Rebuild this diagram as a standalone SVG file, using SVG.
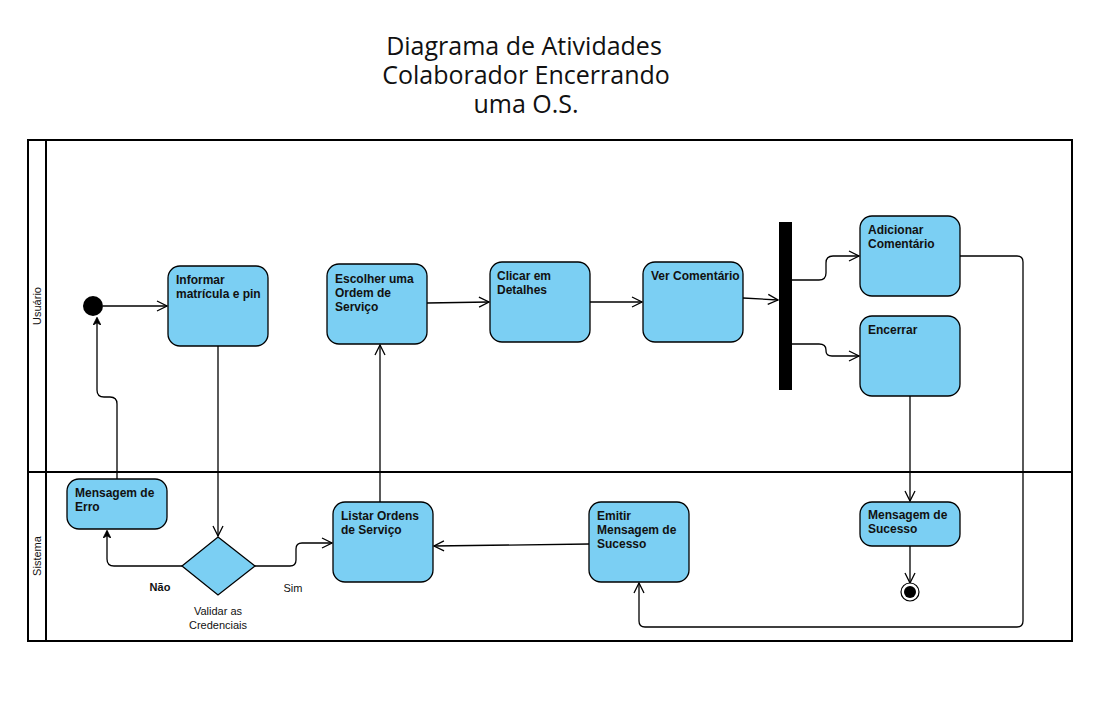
<svg xmlns="http://www.w3.org/2000/svg" width="1100" height="708" viewBox="0 0 1100 708">
<style>
.node{fill:#7BCFF3;stroke:#000;stroke-width:1.3}
.lbl{font-family:"Liberation Sans",Arial,sans-serif;font-size:12px;fill:#111}
.b{font-weight:bold}
.edge{fill:none;stroke:#000;stroke-width:1.3}
.lane{fill:none;stroke:#000;stroke-width:2}
.title{font-family:"Open Sans","Liberation Sans",sans-serif;font-size:25px;fill:#111;text-anchor:middle}
.small{font-family:"Liberation Sans",Arial,sans-serif;font-size:11px;fill:#111}
</style>
<defs>
<marker id="open" viewBox="0 0 12 12" refX="11" refY="6" markerWidth="12" markerHeight="12" markerUnits="userSpaceOnUse" orient="auto">
<path d="M1,1 L11,6 L1,11" fill="none" stroke="#000" stroke-width="1.3"/>
</marker>
<marker id="filled" viewBox="0 0 10 10" refX="9" refY="5" markerWidth="8" markerHeight="8" markerUnits="userSpaceOnUse" orient="auto">
<path d="M0,0 L10,5 L0,10 L3,5 Z" fill="#000" stroke="#000" stroke-width="1"/>
</marker>
</defs>
<rect width="1100" height="708" fill="#fff"/>
<g id="title">
<text class="title"><tspan x="524" y="55">Diagrama de Atividades</tspan><tspan x="526" y="84">Colaborador Encerrando</tspan><tspan x="526" y="113">uma O.S.</tspan></text>
</g>
<g id="pool">
<rect class="lane" x="28" y="140" width="1044" height="501"/>
<line class="lane" x1="46" y1="140" x2="46" y2="641"/>
<line class="lane" x1="28" y1="472" x2="1072" y2="472"/>
<text class="small" transform="translate(41,306) rotate(-90)" text-anchor="middle">Usuário</text>
<text class="small" transform="translate(41,556) rotate(-90)" text-anchor="middle">Sistema</text>
</g>
<g id="connectors">
<path class="edge" d="M103,306 L167,306" marker-end="url(#open)"/>
<path class="edge" d="M218,346 L218,536" marker-end="url(#open)"/>
<path class="edge" d="M182,566 L114,566 Q107,566 107,559 L107,531" marker-end="url(#filled)"/>
<path class="edge" d="M255,566 L290,566 Q296,566 296,560 L296,549 Q296,543 302,543 L332,543" marker-end="url(#open)"/>
<path class="edge" d="M117,479 L117,404 Q117,397 110,397 L104,397 Q97,397 97,390 L97,318" marker-end="url(#filled)"/>
<path class="edge" d="M380,502 L380,345" marker-end="url(#open)"/>
<path class="edge" d="M427,303 L489,302" marker-end="url(#open)"/>
<path class="edge" d="M590,302 L642,302" marker-end="url(#open)"/>
<path class="edge" d="M743,298 L778,300" marker-end="url(#open)"/>
<path class="edge" d="M792,280 L819,280 Q826,280 826,273 L826,263 Q826,256 833,256 L859,256" marker-end="url(#open)"/>
<path class="edge" d="M792,344 L819,344 Q826,344 826,350 L826,351 Q826,356 832,356 L859,356" marker-end="url(#open)"/>
<path class="edge" d="M910,396 L910,501" marker-end="url(#open)"/>
<path class="edge" d="M960,256 L1017,256 Q1023,256 1023,262 L1023,621 Q1023,627 1017,627 L645,627 Q639,627 639,621 L639,583" marker-end="url(#open)"/>
<path class="edge" d="M589,544 L434,546" marker-end="url(#open)"/>
<path class="edge" d="M910,546 L910,583" marker-end="url(#open)"/>
<text class="small b" x="160" y="591" text-anchor="middle">Não</text>
<text class="small" x="293" y="592" text-anchor="middle">Sim</text>
</g>
<g id="start"><circle cx="93" cy="306" r="10" fill="#000"/></g>
<g id="informar">
<rect class="node" x="168" y="266" width="100" height="80" rx="12"/>
<text class="lbl b" x="176" y="284">Informar</text>
<text class="lbl b" x="176" y="298">matrícula e pin</text>
</g>
<g id="escolher">
<rect class="node" x="327" y="264" width="100" height="80" rx="12"/>
<text class="lbl b" x="335" y="283">Escolher uma</text>
<text class="lbl b" x="335" y="297">Ordem de</text>
<text class="lbl b" x="335" y="311">Serviço</text>
</g>
<g id="clicar">
<rect class="node" x="490" y="262" width="100" height="80" rx="12"/>
<text class="lbl b" x="497" y="280">Clicar em</text>
<text class="lbl b" x="497" y="294">Detalhes</text>
</g>
<g id="ver">
<rect class="node" x="643" y="262" width="100" height="80" rx="12"/>
<text class="lbl b" x="651" y="280">Ver Comentário</text>
</g>
<g id="fork"><rect x="779" y="222" width="13" height="168" fill="#000"/></g>
<g id="adicionar">
<rect class="node" x="860" y="216" width="100" height="80" rx="12"/>
<text class="lbl b" x="868" y="234">Adicionar</text>
<text class="lbl b" x="868" y="248">Comentário</text>
</g>
<g id="encerrar">
<rect class="node" x="860" y="316" width="100" height="80" rx="12"/>
<text class="lbl b" x="868" y="334">Encerrar</text>
</g>
<g id="erro">
<rect class="node" x="67" y="479" width="100" height="50" rx="12"/>
<text class="lbl b" x="75" y="497">Mensagem de</text>
<text class="lbl b" x="75" y="511">Erro</text>
</g>
<g id="validar">
<polygon class="node" points="218,537 255,566 218,595 182,566"/>
<text class="small" x="218" y="615" text-anchor="middle">Validar as</text>
<text class="small" x="218" y="629" text-anchor="middle">Credenciais</text>
</g>
<g id="listar">
<rect class="node" x="333" y="502" width="100" height="80" rx="12"/>
<text class="lbl b" x="341" y="520">Listar Ordens</text>
<text class="lbl b" x="341" y="534">de Serviço</text>
</g>
<g id="emitir">
<rect class="node" x="589" y="502" width="100" height="80" rx="12"/>
<text class="lbl b" x="597" y="520">Emitir</text>
<text class="lbl b" x="597" y="534">Mensagem de</text>
<text class="lbl b" x="597" y="548">Sucesso</text>
</g>
<g id="sucesso">
<rect class="node" x="860" y="502" width="100" height="44" rx="12"/>
<text class="lbl b" x="868" y="519">Mensagem de</text>
<text class="lbl b" x="868" y="533">Sucesso</text>
</g>
<g id="end">
<circle cx="910" cy="592" r="9" fill="#fff" stroke="#000" stroke-width="1.2"/>
<circle cx="910" cy="592" r="6" fill="#000"/>
</g>
</svg>
